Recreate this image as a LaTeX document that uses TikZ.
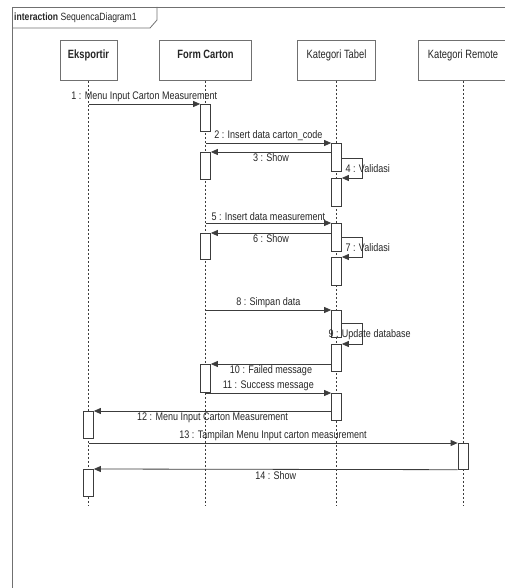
\documentclass[tikz,border=0pt]{standalone}
\usepackage{fontspec}
\setmainfont[FakeStretch=0.82]{Liberation Sans}
\newfontfamily\headfont[FakeStretch=0.78]{Liberation Sans}
\usetikzlibrary{arrows.meta,positioning,calc}
\definecolor{Line}{HTML}{3C3C3C}
\definecolor{Frame}{HTML}{707070}

\begin{document}
\begin{tikzpicture}[x=1pt,y=-1pt,
  every node/.style={font=\fontsize{11}{13}\selectfont,text=black!85},
  head/.style={draw=Frame,line width=0.8pt,fill=white,anchor=north,minimum height=40pt,inner ysep=6pt,text height=11pt,text depth=15pt,font=\headfont\fontsize{12}{14}\selectfont},
  act/.style={draw=Line,line width=0.7pt,fill=white,anchor=north,minimum width=10pt,inner sep=0pt},
  life/.style={Line,line width=0.8pt,dash pattern=on 2pt off 2pt},
  msg/.style={Line,line width=0.8pt,-{Triangle[length=7pt,width=6pt]}},
  lbl/.style={inner sep=1.5pt}]
\useasboundingbox (0,0) rectangle (505,588);
% frame
\draw[Frame,line width=0.8pt] (12,588) -- (12,7) -- (505,7);
\draw[Frame,line width=0.8pt] (12,28) -- (150,28) -- (157,20) -- (157,7);
\node[anchor=west,inner sep=0pt,font=\fontsize{10.5}{12}\selectfont] (frm) at (14,17.5) {\textbf{interaction} SequencaDiagram1};
% lifelines
\node[head,minimum width=57pt] (ek) at (88.5,40) {\textbf{Eksportir}};
\node[head,minimum width=92pt] (fc) at (205.5,40) {\textbf{Form Carton}};
\node[head,minimum width=78pt] (kt) at (336.5,40) {Kategori Tabel};
\node[head,minimum width=90pt] (kr) at (463,40) {Kategori Remote};
\coordinate (end) at (0,505);
\foreach \l in {ek,fc,kt,kr}
  \draw[life] (\l.south) -- (\l.south |- end);
% activations
\foreach \n/\l/\y/\h in {f1/fc/104/27, t2/kt/143/28, f3/fc/152/27, t4/kt/178/28,
    t5/kt/223/28, f6/fc/233/26, t7/kt/257/28, t8/kt/310/27, t9/kt/344/27,
    f10/fc/364/28, t11/kt/393/27, e12/ek/411/27, r13/kr/443/26, e14/ek/469/27}
  \node[act,minimum height=\h pt] (\n) at (\l.south |- 0,\y) {};
% messages
\draw[msg] (ek |- f1.north) -- node[lbl,above]{1 : Menu Input Carton Measurement} (f1.north west);
\draw[msg] (fc |- t2.north) -- node[lbl,above]{2 : Insert data carton\_code} (t2.north west);
\draw[msg] (t2.west |- f3.north) -- node[lbl,below]{3 : Show} (f3.north east);
\draw[msg] ([yshift=-15pt]t2.north east) -- ++(21,0) |- (t4.north east);
\node[lbl,anchor=west] (v4) at ([xshift=2pt,yshift=-26pt]t2.north east) {4 : Validasi};
\draw[msg] (fc |- t5.north) -- node[lbl,above]{5 : Insert data measurement} (t5.north west);
\draw[msg] (t5.west |- f6.north) -- node[lbl,below]{6 : Show} (f6.north east);
\draw[msg] ([yshift=-14pt]t5.north east) -- ++(21,0) |- (t7.north east);
\node[lbl,anchor=west] (v7) at ([xshift=2pt,yshift=-25pt]t5.north east) {7 : Validasi};
\draw[msg] (fc |- t8.north) -- node[lbl,above]{8 : Simpan data} (t8.north west);
\draw[msg] ([yshift=-13pt]t8.north east) -- ++(21,0) |- (t9.north east);
\node[lbl,anchor=west] (v9) at ([xshift=-15pt,yshift=-25pt]t8.north east) {9 : Update database};
\draw[msg] (t9.west |- f10.north) -- node[lbl,below]{10 : Failed message} (f10.north east);
\draw[msg] (fc |- t11.north) -- node[lbl,above]{11 : Success message} (t11.north west);
\draw[msg] (t11.west |- e12.north) -- node[lbl,below]{12 : Menu Input Carton Measurement} (e12.north east);
\draw[msg] (ek |- r13.north) -- node[lbl,above]{13 : Tampilan Menu Input carton measurement} (r13.north west);
\draw[msg] (r13.south west) -- node[lbl,below]{14 : Show} (e14.north east);
\end{tikzpicture}
\end{document}
